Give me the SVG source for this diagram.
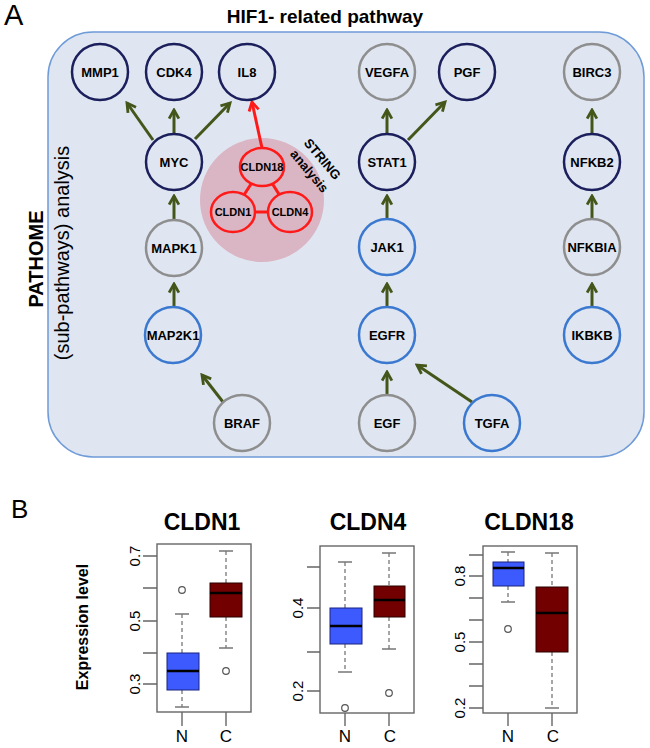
<svg xmlns="http://www.w3.org/2000/svg" width="650" height="748" viewBox="0 0 650 748">
<defs>
<marker id="ag" viewBox="0 0 12 12" refX="10" refY="6" markerWidth="13" markerHeight="13" markerUnits="userSpaceOnUse" orient="auto">
<path d="M2,1.5 L10,6 L2,10.5" fill="none" stroke="#44561a" stroke-width="2.6"/>
</marker>
<marker id="ar" viewBox="0 0 12 12" refX="10" refY="6" markerWidth="13" markerHeight="13" markerUnits="userSpaceOnUse" orient="auto">
<path d="M2,1.5 L10,6 L2,10.5" fill="none" stroke="#ff1a1a" stroke-width="2.6"/>
</marker>
</defs>
<style>
text{font-family:"Liberation Sans",Arial,sans-serif;fill:#000}
.nl{font-size:13px;font-weight:bold;text-anchor:middle}
.cl{font-size:11px;font-weight:bold;text-anchor:middle}
.node{fill:#dfe6f1;stroke-width:2.5}
.navy{stroke:#1b1f5c}
.gray{stroke:#8e8e8e}
.blue{stroke:#3b78d0}
.g{stroke:#44561a;stroke-width:3;fill:none;marker-end:url(#ag)}
.r{stroke:#ff1a1a;stroke-width:3;fill:none}
.frame{fill:#fff;stroke:#666;stroke-width:1.4}
.tick{stroke:#666;stroke-width:1.4}
.wh{stroke:#777;stroke-width:1.3;stroke-dasharray:4,3}
.cap{stroke:#777;stroke-width:1.4}
.bn{fill:#3d5afe;stroke:#1a237e;stroke-width:1}
.bc{fill:#730000;stroke:#2a0000;stroke-width:1}
.med{stroke:#000;stroke-width:2.5}
.out{fill:none;stroke:#555;stroke-width:1.2}
.tl{font-size:15px;text-anchor:middle}
.ax{font-size:17px;text-anchor:middle}
.ti{font-size:23px;font-weight:bold;text-anchor:middle}
</style>

<!-- Panel A -->
<text x="4" y="25" font-size="29">A</text>
<text x="325" y="23" font-size="19" font-weight="bold" text-anchor="middle">HIF1- related pathway</text>
<rect x="48" y="32" width="596" height="425" rx="45" ry="45" fill="#dfe6f1" stroke="#6f9bd8" stroke-width="1.5"/>
<text transform="translate(43,259) rotate(-90)" font-size="20" font-weight="bold" text-anchor="middle">PATHOME</text>
<text transform="translate(69,253) rotate(-90)" font-size="20" text-anchor="middle">(sub-pathways) analysis</text>

<g id="string-cluster">
<circle cx="262" cy="200" r="62" fill="#dab5c3"/>
<line class="r" x1="262" y1="167" x2="233" y2="212"/>
<line class="r" x1="262" y1="167" x2="290" y2="212"/>
<line class="r" x1="233" y1="212" x2="290" y2="212"/>
<text transform="translate(319,162) rotate(50)" font-size="13" font-weight="bold" text-anchor="middle">STRING</text>
<text transform="translate(306,174) rotate(50)" font-size="13" font-weight="bold" text-anchor="middle">analysis</text>
</g>

<g id="connectors">
<line class="g" x1="153" y1="140" x2="127" y2="103"/>
<line class="g" x1="174" y1="134" x2="174" y2="110"/>
<line class="g" x1="195" y1="139" x2="230" y2="103"/>
<line class="g" x1="387" y1="134" x2="387" y2="110"/>
<line class="g" x1="408" y1="140" x2="445" y2="102"/>
<line class="g" x1="592" y1="134" x2="592" y2="110"/>
<line class="g" x1="174" y1="220" x2="174" y2="196"/>
<line class="g" x1="174" y1="307" x2="174" y2="284"/>
<line class="g" x1="223" y1="402" x2="202" y2="375"/>
<line class="g" x1="387" y1="220" x2="387" y2="196"/>
<line class="g" x1="387" y1="307" x2="387" y2="284"/>
<line class="g" x1="387" y1="394" x2="387" y2="372"/>
<line class="g" x1="472" y1="402" x2="417" y2="365"/>
<line class="g" x1="592" y1="220" x2="592" y2="196"/>
<line class="g" x1="592" y1="307" x2="592" y2="284"/>
<line stroke="#ff1a1a" stroke-width="3" marker-end="url(#ar)" x1="262" y1="148" x2="252" y2="102"/>
</g>

<g id="MMP1"><circle class="node navy" cx="100" cy="72" r="28"/><text class="nl" x="100" y="76.5">MMP1</text></g>
<g id="CDK4"><circle class="node navy" cx="174" cy="72" r="28"/><text class="nl" x="174" y="76.5">CDK4</text></g>
<g id="IL8"><circle class="node navy" cx="247" cy="72" r="28"/><text class="nl" x="247" y="76.5">IL8</text></g>
<g id="VEGFA"><circle class="node gray" cx="387" cy="72" r="28"/><text class="nl" x="387" y="76.5">VEGFA</text></g>
<g id="PGF"><circle class="node navy" cx="467" cy="72" r="28"/><text class="nl" x="467" y="76.5">PGF</text></g>
<g id="BIRC3"><circle class="node gray" cx="592" cy="72" r="28"/><text class="nl" x="592" y="76.5">BIRC3</text></g>
<g id="MYC"><circle class="node navy" cx="174" cy="162" r="28"/><text class="nl" x="174" y="166.5">MYC</text></g>
<g id="STAT1"><circle class="node navy" cx="387" cy="162" r="28"/><text class="nl" x="387" y="166.5">STAT1</text></g>
<g id="NFKB2"><circle class="node navy" cx="592" cy="162" r="28"/><text class="nl" x="592" y="166.5">NFKB2</text></g>
<g id="MAPK1"><circle class="node gray" cx="174" cy="248" r="28"/><text class="nl" x="174" y="252.5">MAPK1</text></g>
<g id="JAK1"><circle class="node blue" cx="387" cy="247" r="28"/><text class="nl" x="387" y="251.5">JAK1</text></g>
<g id="NFKBIA"><circle class="node gray" cx="592" cy="247" r="28"/><text class="nl" x="592" y="251.5">NFKBIA</text></g>
<g id="MAP2K1"><circle class="node blue" cx="173" cy="335" r="28"/><text class="nl" x="173" y="339.5">MAP2K1</text></g>
<g id="EGFR"><circle class="node blue" cx="387" cy="335" r="28"/><text class="nl" x="387" y="339.5">EGFR</text></g>
<g id="IKBKB"><circle class="node blue" cx="592" cy="335" r="28"/><text class="nl" x="592" y="339.5">IKBKB</text></g>
<g id="BRAF"><circle class="node gray" cx="242" cy="423" r="28"/><text class="nl" x="242" y="427.5">BRAF</text></g>
<g id="EGF"><circle class="node gray" cx="387" cy="423" r="28"/><text class="nl" x="387" y="427.5">EGF</text></g>
<g id="TGFA"><circle class="node blue" cx="492" cy="423" r="28"/><text class="nl" x="492" y="427.5">TGFA</text></g>

<g id="CLDN18"><ellipse cx="262" cy="167" rx="22" ry="19" fill="#dab5c3" stroke="#ff1a1a" stroke-width="2.5"/><text class="cl" x="262" y="171">CLDN18</text></g>
<g id="CLDN1"><ellipse cx="233" cy="212" rx="22" ry="20" fill="#dab5c3" stroke="#ff1a1a" stroke-width="2.5"/><text class="cl" x="233" y="216">CLDN1</text></g>
<g id="CLDN4"><ellipse cx="290" cy="212" rx="22" ry="20" fill="#dab5c3" stroke="#ff1a1a" stroke-width="2.5"/><text class="cl" x="290" y="216">CLDN4</text></g>

<!-- Panel B -->
<text x="11" y="518" font-size="26">B</text>
<text transform="translate(88,627) rotate(-90)" font-size="16" font-weight="bold" text-anchor="middle">Expression level</text>

<g id="plot-CLDN1">
<text class="ti" x="202" y="530">CLDN1</text>
<rect class="frame" x="157" y="544" width="94" height="168"/>
<path class="tick" d="M143,556H157M143,588H157M143,621H157M143,653H157M143,684H157M182,712V726M226,712V726"/>
<text class="tl" transform="translate(140,556) rotate(-90)">0.7</text>
<text class="tl" transform="translate(140,621) rotate(-90)">0.5</text>
<text class="tl" transform="translate(140,684) rotate(-90)">0.3</text>
<line class="wh" x1="182" y1="614" x2="182" y2="653"/><line class="wh" x1="182" y1="690" x2="182" y2="707"/>
<path class="cap" d="M175,614H189M175,707H189"/>
<rect class="bn" x="167" y="653" width="32" height="37"/><line class="med" x1="167" y1="671" x2="199" y2="671"/>
<circle class="out" cx="182" cy="590" r="3.3"/>
<line class="wh" x1="226" y1="551" x2="226" y2="583"/><line class="wh" x1="226" y1="617" x2="226" y2="648"/>
<path class="cap" d="M219,551H233M219,648H233"/>
<rect class="bc" x="210" y="583" width="32" height="34"/><line class="med" x1="210" y1="593" x2="242" y2="593"/>
<circle class="out" cx="226" cy="671" r="3.3"/>
<text class="ax" x="182" y="742">N</text><text class="ax" x="226" y="742">C</text>
</g>

<g id="plot-CLDN4">
<text class="ti" x="368" y="530">CLDN4</text>
<rect class="frame" x="320" y="546" width="94" height="167"/>
<path class="tick" d="M307,567H320M307,608H320M307,652H320M307,691H320M345,713V726M389,713V726"/>
<text class="tl" transform="translate(303,608) rotate(-90)">0.4</text>
<text class="tl" transform="translate(303,691) rotate(-90)">0.2</text>
<line class="wh" x1="345" y1="562" x2="345" y2="608"/><line class="wh" x1="345" y1="644" x2="345" y2="672"/>
<path class="cap" d="M338,562H352M338,672H352"/>
<rect class="bn" x="330" y="608" width="32" height="36"/><line class="med" x1="330" y1="626" x2="362" y2="626"/>
<circle class="out" cx="345" cy="708" r="3.3"/>
<line class="wh" x1="389" y1="553" x2="389" y2="586"/><line class="wh" x1="389" y1="617" x2="389" y2="649"/>
<path class="cap" d="M382,553H396M382,649H396"/>
<rect class="bc" x="374" y="586" width="31" height="31"/><line class="med" x1="374" y1="600" x2="405" y2="600"/>
<circle class="out" cx="389" cy="693" r="3.3"/>
<text class="ax" x="345" y="742">N</text><text class="ax" x="390" y="742">C</text>
</g>

<g id="plot-CLDN18">
<text class="ti" x="529" y="530">CLDN18</text>
<rect class="frame" x="483" y="546" width="94" height="167"/>
<path class="tick" d="M469,555H483M469,576H483M469,598H483M469,620H483M469,642H483M469,664H483M469,686H483M469,708H483M508,713V726M552,713V726"/>
<text class="tl" transform="translate(465,576) rotate(-90)">0.8</text>
<text class="tl" transform="translate(465,642) rotate(-90)">0.5</text>
<text class="tl" transform="translate(465,708) rotate(-90)">0.2</text>
<line class="wh" x1="508" y1="552" x2="508" y2="562"/><line class="wh" x1="508" y1="586" x2="508" y2="602"/>
<path class="cap" d="M501,552H515M501,602H515"/>
<rect class="bn" x="493" y="562" width="31" height="24"/><line class="med" x1="493" y1="568" x2="524" y2="568"/>
<circle class="out" cx="508" cy="629" r="3.3"/>
<line class="wh" x1="552" y1="553" x2="552" y2="587"/><line class="wh" x1="552" y1="652" x2="552" y2="708"/>
<path class="cap" d="M545,553H559M545,708H559"/>
<rect class="bc" x="536" y="587" width="32" height="65"/><line class="med" x1="536" y1="613" x2="568" y2="613"/>
<text class="ax" x="508" y="742">N</text><text class="ax" x="553" y="742">C</text>
</g>
</svg>
